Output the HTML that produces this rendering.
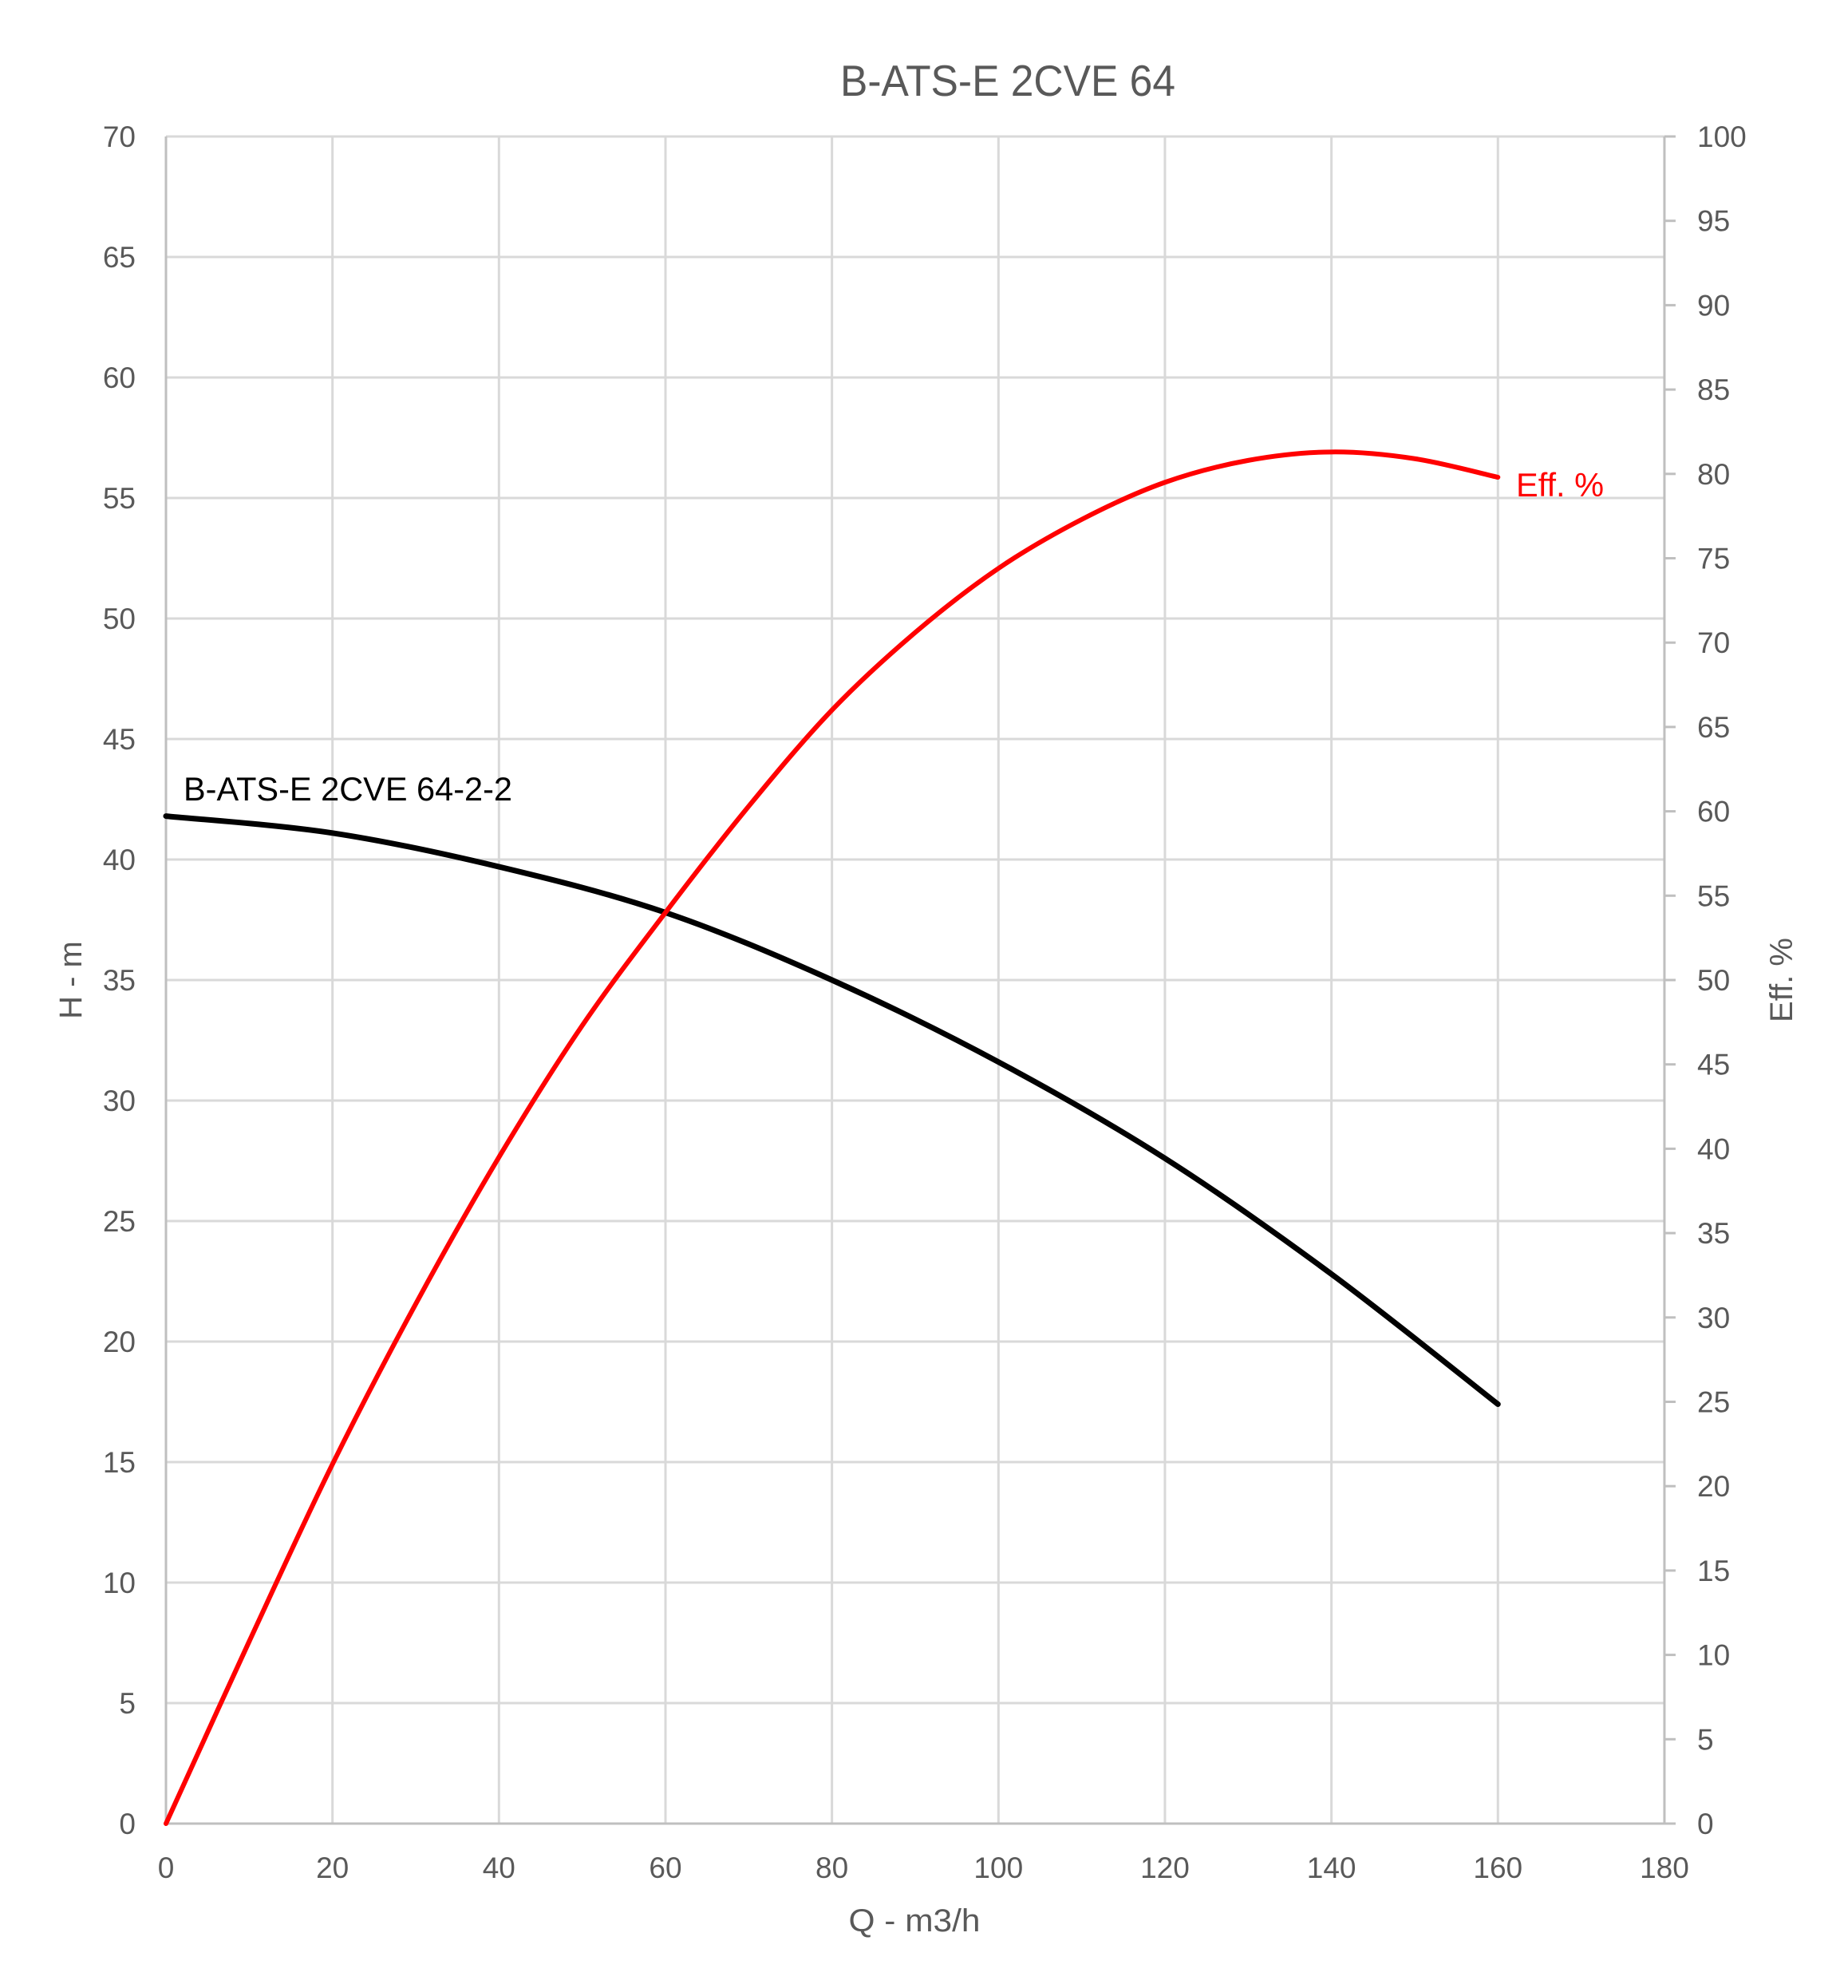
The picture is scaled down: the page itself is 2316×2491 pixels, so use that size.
<!DOCTYPE html>
<html><head><meta charset="utf-8"><style>html,body{margin:0;padding:0;background:#fff}svg{display:block}</style></head>
<body>
<svg id="s" width="2316" height="2491" viewBox="0 0 2316 2491" xmlns="http://www.w3.org/2000/svg" font-family="Liberation Sans, sans-serif">
<rect width="2316" height="2491" fill="#fff"/>
<g id="grid" stroke="#d9d9d9" stroke-width="3"></g>
<g id="axes" stroke="#bfbfbf" stroke-width="3"></g>
<g id="labels" fill="#595959" font-size="37"></g>
<text x="1263" y="120" font-size="55" fill="#595959" text-anchor="middle" textLength="420" lengthAdjust="spacingAndGlyphs">B-ATS-E 2CVE 64</text>
<text x="1146" y="2420" font-size="40" fill="#595959" text-anchor="middle" textLength="165" lengthAdjust="spacingAndGlyphs">Q - m3/h</text>
<text transform="translate(102,1228) rotate(-90)" font-size="40" fill="#595959" text-anchor="middle">H - m</text>
<text transform="translate(2246,1228) rotate(-90)" font-size="40" fill="#595959" text-anchor="middle">Eff. %</text>
<path id="hc" fill="none" stroke="#000" stroke-width="7" stroke-linecap="round" stroke-linejoin="round"/>
<path id="ec" fill="none" stroke="#ff0000" stroke-width="6" stroke-linecap="round" stroke-linejoin="round"/>
<text x="230" y="1003" font-size="42" fill="#000" textLength="412" lengthAdjust="spacingAndGlyphs">B-ATS-E 2CVE 64-2-2</text>
<text x="1900" y="622" font-size="42" fill="#ff0000" textLength="110" lengthAdjust="spacingAndGlyphs">Eff. %</text>
</svg>
<script>
var NS="http://www.w3.org/2000/svg";
var X0=208,XW=10.433,Y0=2285,TOP=171,HU=(Y0-TOP)/70,EU=(Y0-TOP)/100;
function X(q){return X0+q*XW}
function mk(p,t,a){var e=document.createElementNS(NS,t);for(var k in a)e.setAttribute(k,a[k]);p.appendChild(e);return e}
var g=document.getElementById('grid'),ax=document.getElementById('axes'),lb=document.getElementById('labels');
for(var h=5;h<=70;h+=5){var y=Y0-h*HU;mk(g,'line',{x1:X0,x2:X(180),y1:y,y2:y})}
for(var q=20;q<=160;q+=20){mk(g,'line',{x1:X(q),x2:X(q),y1:TOP,y2:Y0})}
mk(ax,'line',{x1:X0,x2:X(180)+14,y1:Y0,y2:Y0});
mk(ax,'line',{x1:X0,x2:X0,y1:TOP,y2:Y0});
mk(ax,'line',{x1:X(180),x2:X(180),y1:TOP,y2:Y0});
for(var e=0;e<=100;e+=5){var y=Y0-e*EU;mk(ax,'line',{x1:X(180),x2:X(180)+14,y1:y,y2:y});
 var t=mk(lb,'text',{x:2127,y:y+13});t.textContent=e;}
for(var h=0;h<=70;h+=5){var y=Y0-h*HU;var t=mk(lb,'text',{x:170,y:y+13,'text-anchor':'end'});t.textContent=h;}
for(var q=0;q<=180;q+=20){var t=mk(lb,'text',{x:X(q),y:2353,'text-anchor':'middle'});t.textContent=q;}
function path(pts){var P=pts.map(function(p){return[X(p[0]),p[1]]});var d='M'+P[0][0].toFixed(1)+','+P[0][1].toFixed(1);
 for(var i=0;i<P.length-1;i++){var p0=P[i-1]||P[i],p1=P[i],p2=P[i+1],p3=P[i+2]||P[i+1];
  var c1=[p1[0]+(p2[0]-p0[0])/6,p1[1]+(p2[1]-p0[1])/6],c2=[p2[0]-(p3[0]-p1[0])/6,p2[1]-(p3[1]-p1[1])/6];
  d+=' C'+c1.join(',')+' '+c2.join(',')+' '+p2.join(',');}return d}
var H=[[0,41.8],[20,41.1],[40,39.7],[60,37.8],[80,35.0],[100,31.6],[120,27.6],[140,22.8],[160,17.4]];
var E=[[0,0],[10,10.8],[20,21.3],[30,30.8],[40,39.5],[50,47.3],[60,54],[70,60.3],[80,66],[90,70.6],[100,74.4],[110,77.3],[120,79.5],[130,80.8],[140,81.3],[150,80.9],[160,79.8]];
document.getElementById('hc').setAttribute('d',path(H.map(function(p){return[p[0],Y0-p[1]*HU]})));
document.getElementById('ec').setAttribute('d',path(E.map(function(p){return[p[0],Y0-p[1]*EU]})));
</script>
</body></html>
